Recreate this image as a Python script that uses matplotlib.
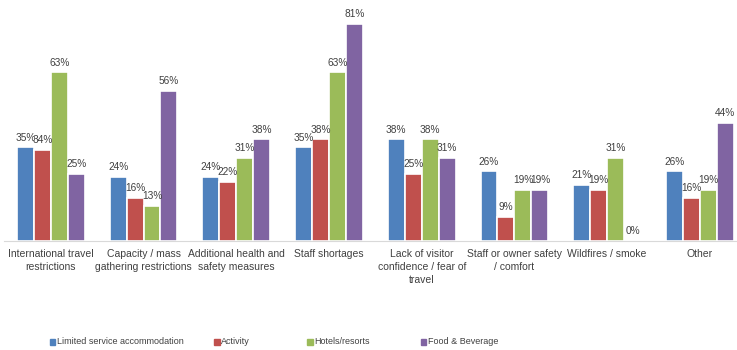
import numpy as np
import matplotlib.pyplot as plt
from matplotlib.patches import Rectangle

categories = ["International travel\nrestrictions", "Capacity / mass\ngathering restrictions",
              "Additional health and\nsafety measures", "Staff shortages",
              "Lack of visitor\nconfidence / fear of\ntravel", "Staff or owner safety\n/ comfort",
              "Wildfires / smoke", "Other"]
series_names = ["Limited service accommodation", "Activity", "Hotels/resorts", "Food & Beverage"]
limited = [35, 24, 24, 35, 38, 26, 21, 26]
activity = [34, 16, 22, 38, 25, 9, 19, 16]
hotels = [63, 13, 31, 63, 38, 19, 31, 19]
food_bev = [25, 56, 38, 81, 31, 19, 0, 44]
colors = ["#4F81BD", "#C0504D", "#9BBB59", "#8064A2"]
legend_x = [50, 214, 307, 421]  # pixel start of each legend entry

plt.rcParams['font.family'] = ['Liberation Sans Narrow', 'Liberation Sans', 'DejaVu Sans']

W, H = 737, 350
fig = plt.figure(figsize=(W / 100, H / 100), dpi=100)
ax = fig.add_axes([0.006, 0.311, 0.994, 0.689])

x = np.arange(len(categories))
pitch = 0.183
for i, (vals, c) in enumerate(zip([limited, activity, hotels, food_bev], colors)):
    pos = x + (i - 1.5) * pitch
    ax.bar(pos, vals, width=pitch, color=c, edgecolor='white', linewidth=1.2)
    for p, v in zip(pos, vals):
        ax.text(p, v + 1.8, f"{v}%", ha='center', va='bottom', fontsize=7.3, color='#404040')

ax.set_xlim(-0.5, 7.40)
ax.set_ylim(0, 90)
ax.set_yticks([])
ax.set_xticks(x)
ax.set_xticklabels(categories, fontsize=7.5, color='#404040', linespacing=1.35)
ax.tick_params(axis='x', length=0, pad=6)
for s in ['top', 'right', 'left']:
    ax.spines[s].set_visible(False)
ax.spines['bottom'].set_color('#D9D9D9')

# legend, laid out like the original
ly = 1 - 342 / H
sq = 5.5
for lx, c, name in zip(legend_x, colors, series_names):
    fig.add_artist(Rectangle((lx / W, ly - sq / 2 / H), sq / W, sq / H,
                             transform=fig.transFigure, color=c))
    fig.text((lx + sq + 1.5) / W, ly, name, fontsize=6.5, color='#404040',
             ha='left', va='center')

fig.savefig('out.png', dpi=100)
